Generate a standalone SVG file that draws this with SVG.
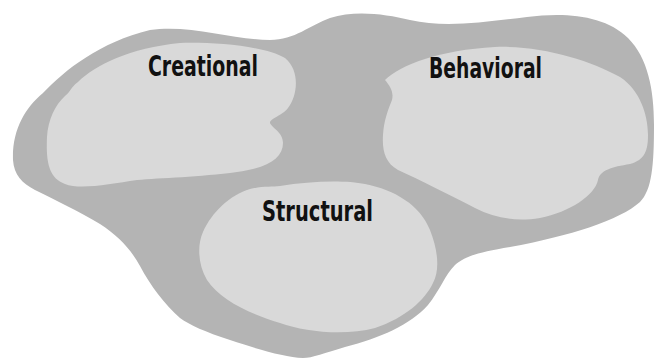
<svg xmlns="http://www.w3.org/2000/svg" width="654" height="358" viewBox="0 0 654 358">
<style>
.outer{fill:#b4b4b4}
.blob{fill:#d9d9d9}
.lbl{font-family:"DejaVu Sans Condensed","DejaVu Sans","Liberation Sans",sans-serif;font-weight:bold;font-size:28px;fill:#111}
</style>
<rect width="654" height="358" fill="#ffffff"/>
<g id="patterns">
<path class="outer" d="M 13,160 C 12,130 25,108 43,93 C 65,70 100,42 150,30 C 190,24 235,40 270,40 C 295,40 310,25 330,18 C 355,10 385,14 410,20 C 445,28 485,22 527,17 C 565,12 605,15 628,38 C 648,58 654,90 654,125 C 654,165 652,190 640,202 C 620,220 570,236 510,247 C 480,252 465,256 455,265 C 445,275 440,290 428,305 C 410,325 380,338 345,347 C 325,353 312,358 303,358 C 285,357 260,350 230,340 C 205,332 190,325 180,318 C 165,305 150,285 140,266 C 130,248 118,236 100,224 C 80,212 55,200 35,190 C 22,183 14,175 13,160 Z"/>
</g>
<g id="creational">
<path class="blob" d="M 180,43 C 215,42 265,46 285,58 C 300,70 298,95 288,108 C 282,116 270,118 270,123 C 272,128 283,132 283,143 C 283,158 268,168 237,172 C 200,177 160,178 137,180 C 110,184 80,190 65,184 C 48,178 46,160 47,137 C 48,120 55,105 65,96 C 72,90 70,88 78,82 C 95,65 130,48 180,43 Z"/>
<text class="lbl" x="148" y="76" textLength="110" lengthAdjust="spacingAndGlyphs">Creational</text>
</g>
<g id="behavioral">
<path class="blob" d="M 385,80 C 400,65 440,50 495,47 C 540,45 590,60 620,77 C 640,90 648,115 648,135 C 648,150 645,160 630,164 C 612,167 600,170 598,180 C 595,195 570,212 540,218 C 515,222 495,218 475,208 C 450,195 420,180 398,170 C 385,163 382,150 383,135 C 384,120 388,110 392,100 C 394,92 390,86 385,80 Z"/>
<text class="lbl" x="429" y="78" textLength="113" lengthAdjust="spacingAndGlyphs">Behavioral</text>
</g>
<g id="structural">
<path class="blob" d="M 280,186 C 310,181 345,180 365,184 C 395,190 420,205 430,230 C 438,250 440,270 433,283 C 425,300 405,318 375,328 C 345,336 305,332 280,323 C 250,314 220,300 207,280 C 198,265 197,245 203,232 C 212,212 230,195 250,189 C 262,186 272,187 280,186 Z"/>
<text class="lbl" x="262" y="221" textLength="111" lengthAdjust="spacingAndGlyphs">Structural</text>
</g>
<g id="connectors"></g>
</svg>
